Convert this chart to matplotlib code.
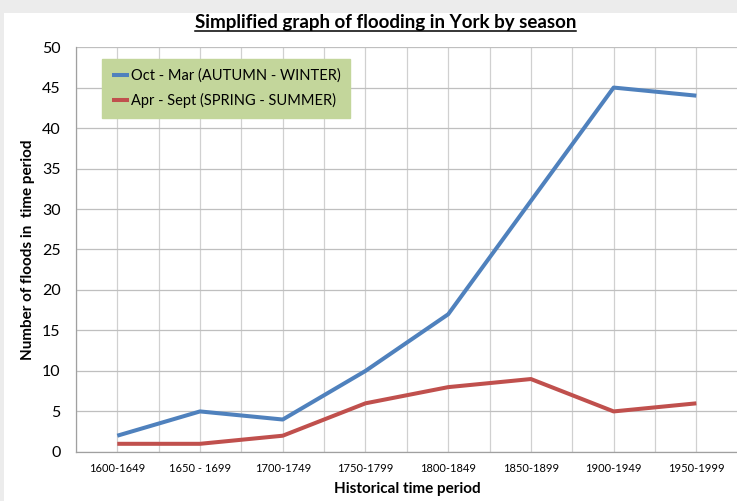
import matplotlib
matplotlib.use("Agg")
import matplotlib.pyplot as plt
from matplotlib.lines import Line2D
from matplotlib.patches import Rectangle

periods = ["1600-1649", "1650 - 1699", "1700-1749", "1750-1799",
           "1800-1849", "1850-1899", "1900-1949", "1950-1999"]
winter = [2, 5, 4, 10, 17, 31, 45, 44]
summer = [1, 1, 2, 6, 8, 9, 5, 6]
winter_label = "Oct - Mar (AUTUMN - WINTER)"
summer_label = "Apr - Sept (SPRING - SUMMER)"
y_ticks = [0, 5, 10, 15, 20, 25, 30, 35, 40, 45, 50]

plt.rcParams["font.family"] = ["Lato", "DejaVu Sans"]

fig = plt.figure(figsize=(7.37, 5.01), dpi=100)
fig.patch.set_facecolor("white")
fig.patches.append(Rectangle((0, 0.975), 1, 0.025, transform=fig.transFigure,
                             facecolor="#ececec", edgecolor="none", zorder=0))
fig.patches.append(Rectangle((0, 0), 0.006, 1, transform=fig.transFigure,
                             facecolor="#ececec", edgecolor="none", zorder=0))

ax = fig.add_axes([0.103, 0.098, 0.898, 0.808])
x = list(range(len(periods)))
ax.plot(x, winter, color="#4f81bd", lw=2.9, label=winter_label, solid_capstyle="butt", zorder=3)
ax.plot(x, summer, color="#c0504d", lw=2.9, label=summer_label, solid_capstyle="butt", zorder=3)

ax.set_xlim(-0.5, len(periods) - 0.5)
ax.set_ylim(0, 50)
ax.set_yticks(y_ticks)
ax.set_yticklabels([str(v) for v in y_ticks], fontsize=11.5)
ax.set_xticks(x)
ax.set_xticklabels(periods, fontsize=8)
ax.set_xticks([i - 0.5 for i in range(len(periods) + 1)], minor=True)
ax.grid(axis="y", which="major", color="#bfbfbf", lw=0.9)
ax.grid(axis="x", which="both", color="#d0d0d0", lw=0.9)
ax.tick_params(axis="both", which="both", length=0)
ax.tick_params(axis="y", pad=11)
ax.tick_params(axis="x", pad=8)
for s in ["top", "right"]:
    ax.spines[s].set_visible(False)
for s in ["left", "bottom"]:
    ax.spines[s].set_color("#a0a0a0")
    ax.spines[s].set_linewidth(0.9)

ax.set_xlabel("Historical time period", fontsize=11, fontweight="bold", labelpad=6)
ax.set_ylabel("Number of floods in  time period", fontsize=11, fontweight="bold", labelpad=5)

leg = ax.legend(loc="upper left", bbox_to_anchor=(0.04, 0.97), fontsize=10.5,
                frameon=True, fancybox=False, handlelength=1.2, handletextpad=0.1,
                borderpad=0.65, labelspacing=0.7, borderaxespad=0)
leg.get_frame().set_facecolor("#c3d69b")
leg.get_frame().set_edgecolor("#c3d69b")
leg.get_frame().set_alpha(1)

t = fig.text(0.523, 0.955, "Simplified graph of flooding in York by season",
             ha="center", va="center", fontsize=13.5, fontweight="bold")
fig.canvas.draw()
bb = t.get_window_extent(fig.canvas.get_renderer())
inv = fig.transFigure.inverted()
(x0, y0), (x1, _) = inv.transform([(bb.x0, bb.y0 - 1), (bb.x1, bb.y0)])
fig.lines.append(Line2D([x0, x1], [y0 + 0.002, y0 + 0.002], transform=fig.transFigure,
                        color="black", lw=1.1))

fig.savefig("out.png", dpi=100, facecolor=fig.get_facecolor())
